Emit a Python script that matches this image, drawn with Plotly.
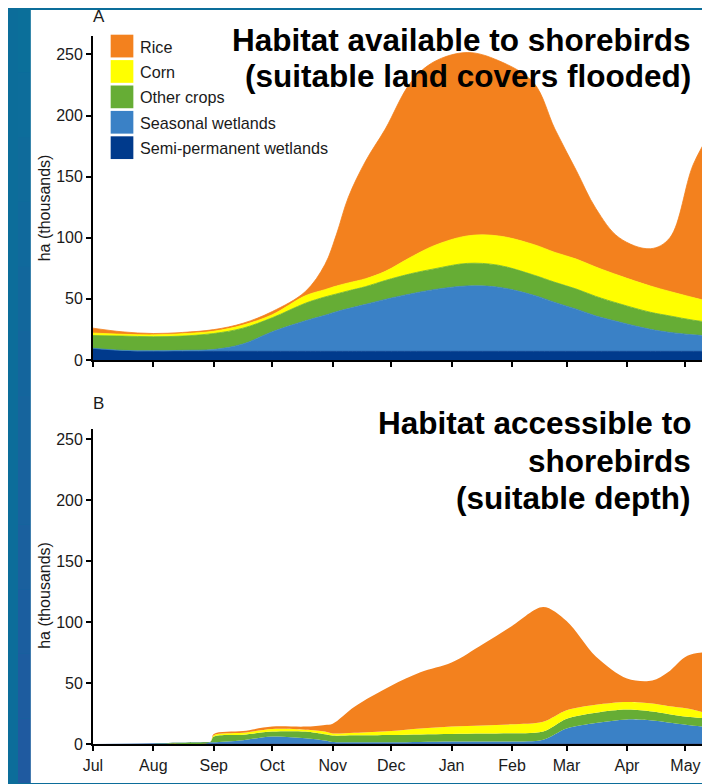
import plotly.graph_objects as go

W, H = 710, 784

# ---------------- data ----------------
months = ["Jul", "Aug", "Sep", "Oct", "Nov", "Dec", "Jan", "Feb", "Mar", "Apr", "May"]
month_days = [0, 31, 62, 92, 123, 153, 184, 215, 243, 274, 304]
y_ticks = [0, 50, 100, 150, 200, 250]

series_names = ["Semi-permanent wetlands", "Seasonal wetlands", "Other crops", "Corn", "Rice"]
series_colors = ["#003A8C", "#3A81C6", "#66AD35", "#FFFF00", "#F3811E"]

# Panel A: habitat available (thousand ha), days since 1 July
a_days = [0, 15, 31, 46, 62, 77, 92, 109, 119, 125, 131, 140, 150, 163, 175, 192, 208, 226, 237, 248, 258, 270, 286, 296, 308, 318]
a_semi = [9.5, 7.5, 7, 7, 7, 7, 7, 7, 7, 7, 7, 7, 7, 7, 7, 7, 7, 7, 7, 7, 7, 7, 7, 7, 7, 7]
a_seasonal = [0, 0.3, 0.5, 0.8, 1.5, 6, 16, 25, 29.5, 32.5, 35, 38.5, 42.5, 47, 50.5, 53.5, 52.5, 46, 40, 34.5, 29, 24, 18, 15.5, 13.5, 12.5]
a_other = [10.5, 11.7, 11.5, 11.7, 13.1, 13, 11.5, 14.4, 15, 14.5, 14.5, 14.5, 15.5, 16.5, 17, 18.5, 18, 16.5, 16.5, 16.5, 16, 15, 14, 13.5, 12, 11]
a_corn = [2, 1.5, 1.5, 2, 1.9, 2.5, 2.5, 6.1, 6, 6.5, 6.5, 6.5, 7.5, 13.5, 19, 22.5, 24, 25, 24.5, 24.5, 24, 23, 21.5, 20, 18.5, 16.5]
a_rice = [4, 2, 1.1, 1, 1.3, 1.5, 2.6, 3.5, 20.5, 42.5, 70, 96.5, 116.5, 143, 150.5, 150.1, 143.5, 132.5, 101, 72.5, 48, 31, 30.5, 44, 109, 142]

# Panel B: habitat accessible (thousand ha)
b_days = [0, 31, 60, 62, 77, 92, 109, 119, 123, 134, 153, 168, 184, 200, 215, 231, 243, 258, 274, 287, 295, 305, 318]
b_semi = [0.4, 0.7, 0.9, 1, 1, 1, 1, 1, 1, 1, 1, 1, 1, 1, 1, 1, 1, 1, 1, 1, 1, 1, 1]
b_seasonal = [0, 0.3, 0.8, 0.8, 2.5, 5.5, 4, 2.2, 1, 0.9, 0.9, 1.1, 1.4, 1.4, 1.4, 2.8, 12, 16.5, 19.5, 18.5, 17, 15, 12.8]
b_other = [0, 0, 0, 4.7, 4.5, 4, 5.5, 5.1, 5.3, 5.6, 5.9, 6.1, 6.2, 6.6, 6.8, 6.7, 8, 8.5, 8.1, 7.5, 7, 6.7, 7.2]
b_corn = [0, 0, 0, 1, 1.5, 2.2, 1.5, 2.2, 1.7, 2, 3.2, 4.8, 6, 6.5, 7.3, 8.1, 7, 6.5, 6.2, 6.5, 6.5, 6.7, 3]
b_rice = [0, 0, 0, 1.1, 1.5, 1.9, 2.6, 5.5, 8, 21.2, 37, 46, 52.4, 66.5, 80.5, 93.9, 73, 39.5, 19.2, 18.8, 27.5, 43.2, 51.8]

title_a = ["Habitat available to shorebirds", "(suitable land covers flooded)"]
title_b = ["Habitat accessible to", "shorebirds", "(suitable depth)"]

# ---------------- figure ----------------
FONT = "Liberation Sans, Arial, sans-serif"
TXT = "#1a1a1a"
OFF = 8  # page body margin: the figure is drawn 8 px right/down in the window


def px(x):
    return (x - OFF) / W


def py(y):
    return 1 - (y - OFF) / H


fig = go.Figure()

a_series = [a_semi, a_seasonal, a_other, a_corn, a_rice]
b_series = [b_semi, b_seasonal, b_other, b_corn, b_rice]

for name, col, vals in zip(series_names, series_colors, a_series):
    fig.add_trace(go.Scatter(
        x=a_days, y=vals, name=name, stackgroup="a", mode="lines",
        line=dict(width=0.8, color=col, shape="spline", smoothing=1.0),
        fillcolor=col, xaxis="x", yaxis="y", showlegend=False, hoverinfo="skip"))

for name, col, vals in zip(series_names, series_colors, b_series):
    fig.add_trace(go.Scatter(
        x=b_days, y=vals, name=name, stackgroup="b", mode="lines",
        line=dict(width=0, color=col, shape="spline", smoothing=0.9),
        fillcolor=col, xaxis="x2", yaxis="y2", showlegend=False, hoverinfo="skip"))

X0, XEND = 84, 710
DAY_PX = 1.977
XR = [0, (XEND - X0) / DAY_PX]
A_ZERO, B_ZERO = 364, 753
UNIT = 1.236
A_TOP_VAL, B_TOP_VAL = 265, 258

xaxis_common = dict(range=XR, tickvals=month_days, ticktext=months, ticks="outside",
                    ticklen=5, tickwidth=1.5, tickcolor="black", showline=True,
                    linecolor="black", linewidth=1.8, showgrid=False, zeroline=False,
                    tickfont=dict(family=FONT, size=16, color=TXT), domain=[px(X0), px(XEND)])
yaxis_common = dict(tickvals=y_ticks, ticks="outside", ticklen=5, tickwidth=1.5,
                    tickcolor="black", showline=True, linecolor="black", linewidth=1.8,
                    showgrid=False, zeroline=False,
                    tickfont=dict(family=FONT, size=16, color=TXT))

fig.update_layout(
    width=W, height=H, margin=dict(l=0, r=0, t=0, b=0),
    paper_bgcolor="#0C6D9A", plot_bgcolor="white", showlegend=False,
    xaxis=dict(xaxis_common, anchor="y", showticklabels=False),
    xaxis2=dict(xaxis_common, anchor="y2"),
    yaxis=dict(yaxis_common, anchor="x", range=[0, A_TOP_VAL],
               domain=[py(A_ZERO), py(A_ZERO - A_TOP_VAL * UNIT)]),
    yaxis2=dict(yaxis_common, anchor="x2", range=[0, B_TOP_VAL],
                domain=[py(B_ZERO), py(B_ZERO - B_TOP_VAL * UNIT)]),
)

shapes = []
# blue slide background, slight vertical gradient on the left strip
n_bands = 12
c_top, c_bot = (11, 111, 154), (31, 90, 160)
for i in range(n_bands):
    t = i / (n_bands - 1)
    c = tuple(int(round(a + (b - a) * t)) for a, b in zip(c_top, c_bot))
    shapes.append(dict(type="rect", xref="paper", yref="paper", x0=0, x1=px(21),
                       y0=max(0, py(H * (i + 1) / n_bands + OFF)), y1=min(1, py(H * i / n_bands + OFF)),
                       fillcolor="rgb(%d,%d,%d)" % c, line=dict(width=0), layer="below"))
# white panel
shapes.append(dict(type="rect", xref="paper", yref="paper", x0=px(21), x1=1, y0=0, y1=py(10),
                   fillcolor="white", line=dict(width=0), layer="below"))

annotations = []
# legend (drawn manually, top to bottom: Rice ... Semi-permanent)
for i, (name, col) in enumerate(zip(series_names[::-1], series_colors[::-1])):
    top = 35 + 25.7 * i
    shapes.append(dict(type="rect", xref="paper", yref="paper", x0=px(102), x1=px(125),
                       y0=py(top + 23), y1=py(top), fillcolor=col, line=dict(width=0)))
    annotations.append(dict(text=name, xref="paper", yref="paper", x=px(130), y=py(top + 12),
                            xanchor="left", yanchor="middle", showarrow=False,
                            font=dict(family=FONT, size=16.2, color=TXT)))

# panel titles
for text, yc in zip(title_a, [40, 77]):
    annotations.append(dict(text="<b>%s</b>" % text, xref="paper", yref="paper", x=px(693),
                            y=py(yc), xanchor="right", yanchor="middle", showarrow=False,
                            font=dict(family=FONT, size=31.5, color="black")))
for text, yc in zip(title_b, [428, 466, 504]):
    annotations.append(dict(text="<b>%s</b>" % text, xref="paper", yref="paper", x=px(693),
                            y=py(yc), xanchor="right", yanchor="middle", showarrow=False,
                            font=dict(family=FONT, size=31.5, color="black")))

# panel letters
for letter, yc in [("A", 17), ("B", 408)]:
    annotations.append(dict(text=letter, xref="paper", yref="paper", x=px(90), y=py(yc),
                            xanchor="center", yanchor="middle", showarrow=False,
                            font=dict(family=FONT, size=17, color=TXT)))

# y-axis titles
for yc in [210, 602]:
    annotations.append(dict(text="ha (thousands)", xref="paper", yref="paper", x=px(35), y=py(yc),
                            xanchor="center", yanchor="middle", textangle=-90, showarrow=False,
                            font=dict(family=FONT, size=16, color=TXT)))

fig.update_layout(shapes=shapes, annotations=annotations)

fig.write_html("out.html")
